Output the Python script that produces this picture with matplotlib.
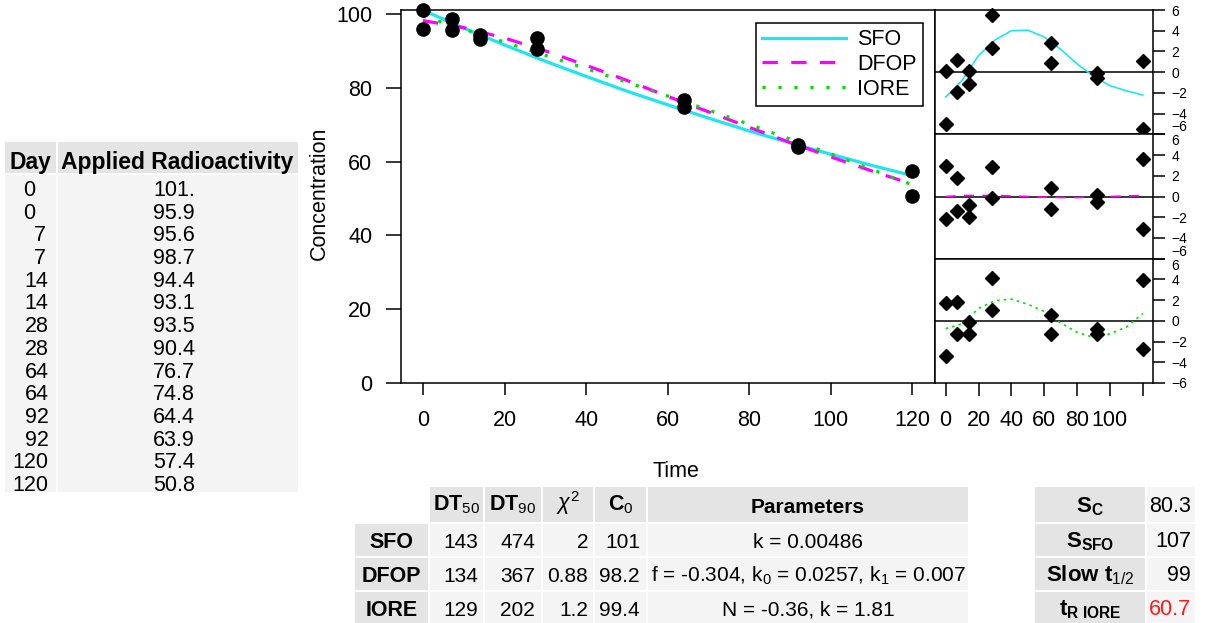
"""Degradation kinetics summary: observed data table, SFO/DFOP/IORE fits,
residual panels and fit statistics, all on one 1217x623 canvas."""

import matplotlib

matplotlib.use("Agg")
import matplotlib.pyplot as plt
from matplotlib.patches import Rectangle

W, H, DPI = 1217, 623, 100

plt.rcParams["font.family"] = ["Liberation Sans", "DejaVu Sans"]
plt.rcParams["mathtext.fontset"] = "custom"
plt.rcParams["mathtext.rm"] = "Liberation Sans"
plt.rcParams["mathtext.it"] = "Liberation Sans:italic"
plt.rcParams["mathtext.bf"] = "Liberation Sans:bold"

# observed data
days = [0, 0, 7, 7, 14, 14, 28, 28, 64, 64, 92, 92, 120, 120]
applied = [101.0, 95.9, 95.6, 98.7, 94.4, 93.1, 93.5, 90.4,
           76.7, 74.8, 64.4, 63.9, 57.4, 50.8]

# fitted curves, sampled every 10 days
t_fit = [0, 10, 20, 30, 40, 50, 60, 70, 80, 90, 100, 110, 120]
sfo_fit = [101.0, 96.2, 91.6, 87.2, 83.1, 79.1, 75.4, 71.8, 68.3, 65.1, 62.0, 59.0, 56.2]
dfop_fit = [98.2, 96.3, 93.5, 90.0, 86.1, 82.0, 77.7, 73.5, 69.3, 65.2, 61.3, 57.5, 53.9]
iore_fit = [99.4, 95.9, 92.4, 88.8, 85.2, 81.5, 77.8, 74.0, 70.1, 66.1, 62.1, 57.9, 53.7]

# residuals (observed - fitted), same order as days
sfo_res = [0.1, -5.0, -1.9, 1.2, 0.1, -1.1, 5.5, 2.3, 2.8, 0.9, -0.1, -0.6, 1.1, -5.5]
dfop_res = [2.9, -2.2, -1.4, 1.8, -0.8, -2.0, 2.8, -0.1, 0.8, -1.2, 0.1, -0.5, 3.6, -3.1]
iore_res = [1.7, -3.4, -1.3, 1.8, -0.1, -1.3, 4.1, 1.0, 0.6, -1.3, -0.8, -1.3, 3.9, -2.7]

# smoothed residual trends
sfo_trend = [-2.4, -0.8, 1.6, 3.1, 4.0, 4.05, 3.4, 2.2, 0.8, -0.4, -1.3, -1.8, -2.2]
dfop_trend = [0.0, 0.1, 0.1, 0.1, 0.05, 0.0, -0.05, -0.1, -0.1, -0.05, 0.0, 0.05, 0.1]
iore_trend = [-0.75, -0.3, 1.2, 1.95, 2.1, 1.6, 0.9, -0.2, -1.1, -1.6, -1.25, -0.6, 0.7]

# fit statistics
models = ["SFO", "DFOP", "IORE"]
dt50 = [143, 134, 129]
dt90 = [474, 367, 202]
chi2 = [2, 0.88, 1.2]
c0 = [101, 98.2, 99.4]
params = ["k = 0.00486",
          "f = -0.304, k$_0$ = 0.0257, k$_1$ = 0.007",
          "N = -0.36, k = 1.81"]
stat_labels = [r"$\mathbf{S}_{\mathbf{C}}$", r"$\mathbf{S}_{\mathbf{SFO}}$",
               r"$\mathbf{Slow\ t}_{1/2}$", r"$\mathbf{t}_{\mathbf{R\ IORE}}$"]
stat_values = [80.3, 107, 99, 60.7]

CYAN, MAGENTA, GREEN = "#1ee6ee", "#ff00ff", "#00e000"
HDR, BODY = "#e4e4e4", "#f4f4f4"


def px_axes(fig, x0, y0, x1, y1):
    return fig.add_axes([x0 / W, 1 - y1 / H, (x1 - x0) / W, (y1 - y0) / H])


fig = plt.figure(figsize=(W / DPI, H / DPI), dpi=DPI)

# background board in pixel coordinates for the tables
board = fig.add_axes([0, 0, 1, 1])
board.set_xlim(0, W)
board.set_ylim(H, 0)
board.axis("off")


def cell(x0, y0, x1, y1, color):
    board.add_patch(Rectangle((x0, y0), x1 - x0, y1 - y0, fc=color, ec="none"))


def txt(x, y, s, ha="center", size=15, bold=False, color="black"):
    board.text(x, y, s, ha=ha, va="baseline", fontsize=size,
               fontweight="bold" if bold else "normal", color=color)


# ── data table ──────────────────────────────────────────────────────────
cell(5, 142, 56, 173, HDR)
cell(58, 142, 298, 173, HDR)
cell(5, 175, 56, 492, BODY)
cell(58, 175, 298, 492, BODY)
txt(30.5, 169, "Day", size=16.5, bold=True)
txt(177, 169, "Applied Radioactivity", size=16.5, bold=True)
for i, (d, v) in enumerate(zip(days, applied)):
    y = 188.3 + 22.7 * i + 7.6
    xr = {0: 35, 7: 46}.get(d, 48.5)
    txt(xr, y, str(d), ha="right", size=15.5)
    txt(153, y, f"{v:#.3g}", ha="left", size=15.5)

# ── fit statistics table ────────────────────────────────────────────────
cols = [(355, 428), (430, 483), (485, 541), (543, 593), (595, 646), (648, 968)]
rows = [(487, 522), (524, 556), (558, 590), (592, 623)]
for ci, (x0, x1) in enumerate(cols):
    for ri, (y0, y1) in enumerate(rows):
        if ci == 0 and ri == 0:
            continue
        cell(x0, y0, x1, y1, HDR if (ci == 0 or ri == 0) else BODY)
heads = [r"$\mathbf{DT}_{50}$", r"$\mathbf{DT}_{90}$", r"$\chi^{2}$",
         r"$\mathbf{C}_{0}$"]
for (x0, x1), h in zip(cols[1:5], heads):
    txt((x0 + x1) / 2, 510, h, size=15.5, bold=True)
txt(808, 513, "Parameters", size=15, bold=True)
baselines = [548, 582, 616]
for ri, m in enumerate(models):
    y = baselines[ri]
    txt(391.5, y, m, size=15.5, bold=True)
    txt(478, y, f"{dt50[ri]:g}", ha="right")
    txt(535, y, f"{dt90[ri]:g}", ha="right")
    txt(588, y, f"{chi2[ri]:g}", ha="right")
    txt(640, y, f"{c0[ri]:g}", ha="right")
    txt(808, y, params[ri], size=15)

# ── summary statistics ──────────────────────────────────────────────────
srows = [(487, 522), (523.5, 556), (558, 590), (592, 623)]
sbase = [512, 547, 581, 615]
for i, ((y0, y1), lab, val) in enumerate(zip(srows, stat_labels, stat_values)):
    cell(1035, y0, 1145, y1, HDR)
    cell(1147, y0, 1195, y1, BODY)
    txt(1090, sbase[i], lab, size=16, bold=True)
    txt(1191, sbase[i], f"{val:g}", ha="right", size=15.5,
        color="#ff1a1a" if i == 3 else "black")

# ── main fit plot ───────────────────────────────────────────────────────
ax = px_axes(fig, 401, 10, 935, 383)
ax.plot(t_fit, sfo_fit, color=CYAN, lw=2.3, label="SFO", zorder=2)
ax.plot(t_fit, dfop_fit, color=MAGENTA, lw=2.3, ls=(0, (4.8, 4.2)),
        label="DFOP", zorder=2)
ax.plot(t_fit, iore_fit, color=GREEN, lw=2.3, ls=(0, (1, 4)),
        label="IORE", zorder=2)
ax.plot(days, applied, "o", color="black", ms=9.5, clip_on=False, zorder=3)
ax.set_xlim(-5.4, 125.6)
ax.set_ylim(0, 101.08)
ax.set_xticks(range(0, 121, 20))
ax.set_yticks(range(0, 101, 20))
for s in ax.spines.values():
    s.set_linewidth(1.1)
ax.tick_params(axis="x", length=8.6, width=1.1, labelsize=15.5, pad=11)
ax.tick_params(axis="y", length=10.6, width=1.1, labelsize=15.5, pad=10)
ax.set_xlabel("Time", fontsize=15.5)
ax.xaxis.set_label_coords(0.515, -0.21)
ax.set_ylabel("Concentration", fontsize=15.5)
ax.yaxis.set_label_coords(-0.134, 0.509)
leg = ax.legend(loc="upper right", bbox_to_anchor=(923 / W, 1 - 22.7 / H),
                bbox_transform=fig.transFigure, fancybox=False, framealpha=1,
                edgecolor="black", fontsize=15.5, borderpad=0.3,
                handlelength=3.9, handletextpad=0.5, labelspacing=0.18,
                borderaxespad=0)
leg.get_frame().set_linewidth(1.1)

# ── residual panels ─────────────────────────────────────────────────────
panels = [(sfo_res, sfo_trend, CYAN, "-"),
          (dfop_res, dfop_trend, MAGENTA, (0, (6, 5))),
          (iore_res, iore_trend, GREEN, (0, (1.5, 2.5)))]
edges = [10, 134.3, 258.7, 383]
for i, (res, trend, col, ls) in enumerate(panels):
    r = px_axes(fig, 935, edges[i], 1153.3, edges[i + 1])
    r.axhline(0, color="black", lw=1.1, zorder=1)
    r.plot(t_fit, trend, color=col, lw=1.2, ls=ls, zorder=2)
    r.plot(days, res, "D", color="black", ms=7, clip_on=False, zorder=3)
    r.set_xlim(-6.5, 126.4)
    r.set_ylim(-6, 6)
    r.set_yticks(range(-6, 7, 2))
    r.yaxis.tick_right()
    r.tick_params(axis="y", length=8.4, width=1.1, labelsize=10, pad=4.8)
    # keep the +/-6 labels of neighbouring panels apart at the shared edges
    ylabels = r.get_yticklabels()
    if i < 2:
        ylabels[0].set_va("bottom")
    if i > 0:
        ylabels[-1].set_va("top")
    for s in r.spines.values():
        s.set_linewidth(1.1)
    if i == 2:
        r.set_xticks(range(0, 121, 20))
        r.set_xticklabels(["0", "20", "40", "60", "80", "100", ""])
        r.tick_params(axis="x", length=9.4, width=1.1, labelsize=15.5, pad=10)
    else:
        r.set_xticks([])

fig.savefig("out.png", dpi=DPI)
